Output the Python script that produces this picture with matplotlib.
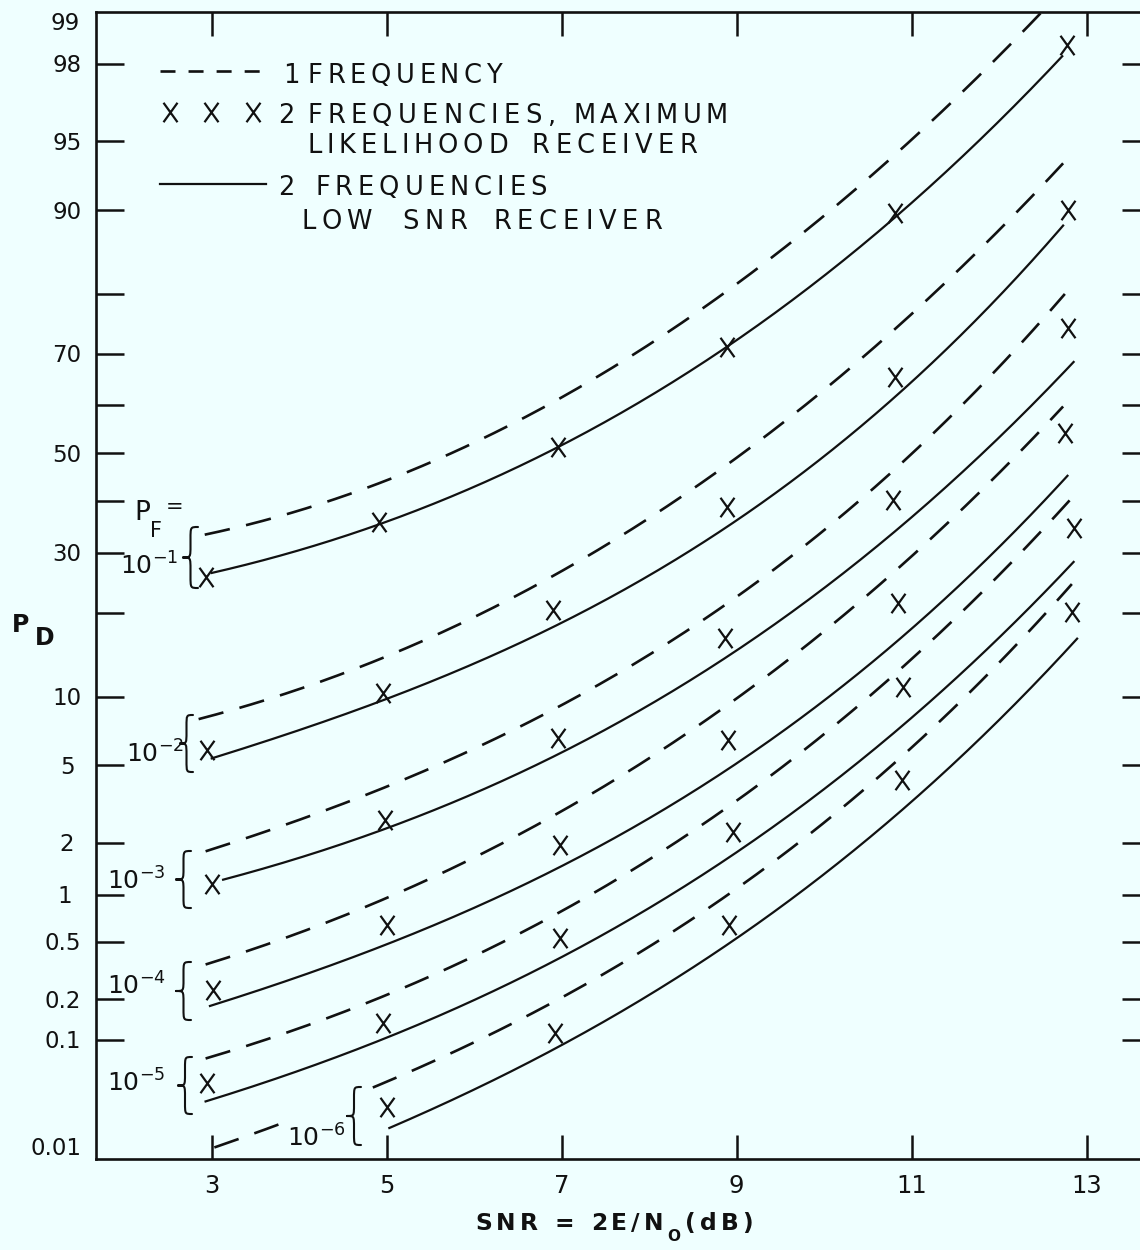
import math
import numpy as np
import matplotlib
matplotlib.use('Agg')
import matplotlib.pyplot as plt
from matplotlib.path import Path
from matplotlib.patches import PathPatch, Rectangle
from matplotlib.lines import Line2D
from matplotlib.ticker import FixedLocator, NullLocator, NullFormatter
from matplotlib.transforms import offset_copy

plt.rcParams['font.family'] = ['DejaVu Sans']
plt.rcParams['mathtext.fontset'] = 'dejavusans'
plt.rcParams['lines.scale_dashes'] = False

# ---------------- data ----------------
snr_ticks = [3, 5, 7, 9, 11, 13]
pd_ticks = [0.1, 0.2, 0.5, 1, 2, 5, 10, 20, 30, 40, 50, 60, 70, 80, 90, 95, 98]
pd_tick_labels = ['0.1', '0.2', '0.5', '1', '2', '5', '10', '', '30', '', '50', '', '70', '', '90', '95', '98']
pd_edge_values = [99, 0.01]
pd_edge_labels = ['99', '0.01']
pf_labels = [r'$10^{-1}$', r'$10^{-2}$', r'$10^{-3}$', r'$10^{-4}$', r'$10^{-5}$', r'$10^{-6}$']

# P_F = 1e-1
snr_one_1 = [2.92, 4, 5, 6, 7, 8, 9, 10, 11, 12, 12.8]
pd_one_1 = [33.4, 38.1, 44.4, 52.6, 61.5, 71.4, 81.4, 89.6, 95.1, 98.2, 99.34]
snr_low_1 = [3.0, 4, 5, 6, 7, 8, 9, 10, 11, 12, 12.72]
pd_low_1 = [26.1, 30.7, 36.5, 43.2, 51.7, 61.1, 72.0, 82.4, 91.2, 96.1, 98.1]
snr_ml_1 = [2.94, 4.91, 6.96, 8.89, 10.81, 12.78]
pd_ml_1 = [25.7, 35.9, 51.3, 71.2, 89.7, 98.43]

# P_F = 1e-2
snr_one_2 = [2.85, 4, 5, 6, 7, 8, 9, 10, 11, 12, 12.73]
pd_one_2 = [7.99, 10.8, 14.5, 19.1, 26.9, 36.3, 49.2, 63.1, 77.0, 88.2, 93.6]
snr_low_2 = [3.0, 4, 5, 6, 7, 8, 9, 10, 11, 12, 12.73]
pd_low_2 = [5.41, 7.23, 9.67, 13.5, 18.9, 25.7, 36.5, 48.6, 65.2, 79.8, 88.4]
snr_ml_2 = [2.95, 4.96, 6.9, 8.89, 10.81, 12.79]
pd_ml_2 = [5.90, 10.3, 20.4, 38.9, 65.6, 90.0]

# P_F = 1e-3
snr_one_3 = [2.93, 4, 5, 6, 7, 8, 9, 10, 11, 12, 12.75]
pd_one_3 = [1.78, 2.70, 3.98, 5.96, 9.32, 14.3, 22.1, 34.5, 50.3, 67.7, 79.8]
snr_low_3 = [3.13, 4, 5, 6, 7, 8, 9, 10, 11, 12, 12.85]
pd_low_3 = [1.21, 1.67, 2.45, 3.76, 5.59, 8.97, 15.2, 23.7, 37.4, 53.4, 68.3]
snr_ml_3 = [3.0, 4.98, 6.96, 8.87, 10.79, 12.79]
pd_ml_3 = [1.16, 2.66, 6.67, 16.5, 40.3, 74.5]

# P_F = 1e-4
snr_one_4 = [2.93, 4, 5, 6, 7, 8, 9, 10, 11, 12, 12.73]
pd_one_4 = [0.350, 0.582, 0.954, 1.69, 2.93, 5.36, 9.76, 17.6, 29.4, 46.1, 59.6]
snr_low_4 = [2.98, 4, 5, 6, 7, 8, 9, 10, 11, 12, 12.78]
pd_low_4 = [0.182, 0.289, 0.463, 0.865, 1.48, 2.70, 5.25, 9.50, 17.7, 31.1, 45.4]
snr_ml_4 = [3.01, 5.0, 6.98, 8.9, 10.84, 12.75]
pd_ml_4 = [0.234, 0.646, 1.95, 6.54, 21.5, 54.3]

# P_F = 1e-5
snr_one_5 = [2.93, 4, 5, 6, 7, 8, 9, 10, 11, 12, 12.88]
pd_one_5 = [0.069, 0.127, 0.222, 0.402, 0.782, 1.56, 3.35, 7.02, 14.2, 26.1, 41.5]
snr_low_5 = [2.93, 4, 5, 6, 7, 8, 9, 10, 11, 12, 12.85]
pd_low_5 = [0.0314, 0.0575, 0.107, 0.199, 0.379, 0.827, 1.83, 3.80, 8.15, 16.8, 28.2]
snr_ml_5 = [2.95, 4.96, 6.98, 8.96, 10.9, 12.85]
pd_ml_5 = [0.0452, 0.133, 0.531, 2.30, 10.9, 34.7]

# P_F = 1e-6
snr_one_6 = [3.03, 4, 5, 6, 7, 8, 9, 10, 11, 12, 12.83]
pd_one_6 = [0.0128, 0.0226, 0.0477, 0.099, 0.209, 0.449, 1.05, 2.63, 6.21, 13.5, 24.4]
snr_low_6 = [5.03, 6, 7, 8, 9, 10, 11, 12, 12.89]
pd_low_6 = [0.0188, 0.0395, 0.0942, 0.215, 0.523, 1.31, 3.35, 8.15, 16.3]
snr_ml_6 = [5.0, 6.92, 8.91, 10.89, 12.83]
pd_ml_6 = [0.0285, 0.112, 0.646, 4.26, 20.1]

one_freq = [(snr_one_1, pd_one_1), (snr_one_2, pd_one_2), (snr_one_3, pd_one_3),
            (snr_one_4, pd_one_4), (snr_one_5, pd_one_5), (snr_one_6, pd_one_6)]
low_snr = [(snr_low_1, pd_low_1), (snr_low_2, pd_low_2), (snr_low_3, pd_low_3),
           (snr_low_4, pd_low_4), (snr_low_5, pd_low_5), (snr_low_6, pd_low_6)]
max_lik = [(snr_ml_1, pd_ml_1), (snr_ml_2, pd_ml_2), (snr_ml_3, pd_ml_3),
           (snr_ml_4, pd_ml_4), (snr_ml_5, pd_ml_5), (snr_ml_6, pd_ml_6)]

# ---------------- normal-probability scale ----------------
SQ2 = math.sqrt(2.0)
_A = [-3.969683028665376e+01, 2.209460984245205e+02, -2.759285104469687e+02,
      1.383577518672690e+02, -3.066479806614716e+01, 2.506628277459239e+00]
_B = [-5.447609879822406e+01, 1.615858368580409e+02, -1.556989798598866e+02,
      6.680131188771972e+01, -1.328068155288572e+01]
_C = [-7.784894002430293e-03, -3.223964580411365e-01, -2.400758277161838e+00,
      -2.549732539343734e+00, 4.374664141464968e+00, 2.938163982698783e+00]
_D = [7.784695709041462e-03, 3.224671290700398e-01, 2.445134137142996e+00,
      3.754408661907416e+00]


def _phi_scalar(z):
    if z != z:
        return float('nan')
    return 0.5 * math.erfc(-z / SQ2)


def _ppf_scalar(p):
    if p != p:
        return float('nan')
    p = min(max(p, 1e-15), 1 - 1e-15)
    plow = 0.02425
    if p < plow:
        q = math.sqrt(-2 * math.log(p))
        x = (((((_C[0]*q+_C[1])*q+_C[2])*q+_C[3])*q+_C[4])*q+_C[5]) / \
            ((((_D[0]*q+_D[1])*q+_D[2])*q+_D[3])*q+1)
    elif p <= 1 - plow:
        q = p - 0.5
        r = q * q
        x = (((((_A[0]*r+_A[1])*r+_A[2])*r+_A[3])*r+_A[4])*r+_A[5])*q / \
            (((((_B[0]*r+_B[1])*r+_B[2])*r+_B[3])*r+_B[4])*r+1)
    else:
        q = math.sqrt(-2 * math.log(1 - p))
        x = -(((((_C[0]*q+_C[1])*q+_C[2])*q+_C[3])*q+_C[4])*q+_C[5]) / \
            ((((_D[0]*q+_D[1])*q+_D[2])*q+_D[3])*q+1)
    e = 0.5 * math.erfc(-x / SQ2) - p
    u = e * math.sqrt(2 * math.pi) * math.exp(x * x / 2)
    return x - u / (1 + x * u / 2)


_phi_v = np.vectorize(_phi_scalar, otypes=[float])
_ppf_v = np.vectorize(_ppf_scalar, otypes=[float])


def fwd(pct):
    return _ppf_v(np.asarray(pct, dtype=float) / 100.0)


def inv(z):
    return 100.0 * _phi_v(np.asarray(z, dtype=float))


def smooth(snr, pd, n=300):
    """Least-squares cubic through the read points in probit space (removes reading jitter)."""
    x = np.asarray(snr, float)
    z = fwd(pd)
    coef = np.polyfit(x, z, 3)
    xs = np.linspace(x[0], x[-1], n)
    return xs, inv(np.polyval(coef, xs))


# ---------------- figure ----------------
W, H = 1140, 1250
BG = '#EFFFFF'
INK = '#111111'

fig = plt.figure(figsize=(W / 100, H / 100), dpi=100, facecolor=BG)
AX_L, AX_R, AX_T, AX_B = 95.7, 1150.0, 12.0, 1159.0
ax = fig.add_axes([AX_L / W, 1 - AX_B / H, (AX_R - AX_L) / W, (AX_B - AX_T) / H])
ax.set_facecolor(BG)
ax.set_yscale('function', functions=(fwd, inv))
ax.set_xlim(1.674, 13.723)
ax.set_ylim(0.01, 99)

for sp in ax.spines.values():
    sp.set_linewidth(1.9)
    sp.set_color(INK)

ax.set_xticks(snr_ticks, labels=[str(v) for v in snr_ticks])
ax.xaxis.set_minor_locator(NullLocator())
ax.tick_params(axis='x', which='major', direction='in', length=17, width=1.8,
               top=True, bottom=True, labelsize=17.5, pad=11, colors=INK)
ax.yaxis.set_major_locator(FixedLocator(pd_ticks))
ax.yaxis.set_major_formatter(NullFormatter())
ax.yaxis.set_minor_locator(NullLocator())
ax.tick_params(axis='y', which='major', direction='in', length=20, width=1.8,
               left=True, right=True, colors=INK)

# y tick labels (drawn as text at data positions)
ytr = ax.get_yaxis_transform()


def axx(px):
    return (px - AX_L) / (AX_R - AX_L)


YFS = 16.5
base_tr = offset_copy(ytr, fig=fig, x=0, y=-6.0, units='points')
for v, lab in zip(pd_ticks, pd_tick_labels):
    if not lab:
        continue
    if len(lab) <= 2:
        cx = 65 if lab == '1' else 67
        ax.text(axx(cx), v, lab, transform=base_tr, ha='center', va='baseline',
                fontsize=YFS, color=INK, clip_on=False)
    else:
        ax.text(axx(81), v, lab, transform=base_tr, ha='right', va='baseline',
                fontsize=YFS, color=INK, clip_on=False)
edge_offsets = [-13.2, 2.6]
for v, lab, off in zip(pd_edge_values, pd_edge_labels, edge_offsets):
    tr = offset_copy(ytr, fig=fig, x=0, y=off, units='points')
    if len(lab) <= 2:
        ax.text(axx(65), v, lab, transform=tr, ha='center', va='baseline',
                fontsize=YFS, color=INK, clip_on=False)
    else:
        ax.text(axx(81), v, lab, transform=tr, ha='right', va='baseline',
                fontsize=YFS, color=INK, clip_on=False)

# X-shaped marker
xmark = Path([(-0.72, -1), (0.72, 1), (-0.72, 1), (0.72, -1)],
             [Path.MOVETO, Path.LINETO, Path.MOVETO, Path.LINETO])

DASH_LW = 1.9
SOLID_LW = 1.6
for s, p in one_freq:
    xs, ys = smooth(s, p)
    ax.plot(xs, ys, color=INK, lw=DASH_LW, ls=(0, (18.5, 12)), dash_capstyle='butt', zorder=2)
for s, p in low_snr:
    xs, ys = smooth(s, p)
    ax.plot(xs, ys, color=INK, lw=SOLID_LW, zorder=2)
for s, p in max_lik:
    ax.plot(s, p, ls='none', marker=xmark, ms=14, mew=1.6, mec=INK, mfc='none', zorder=3)

# ---------------- annotations in figure pixels ----------------
R = fig.canvas.get_renderer()


def fx(x):
    return x / W


def fy(y):
    return 1 - y / H


def char_w(ch, size, weight):
    if ch == ' ':
        return 0.5 * char_w('n', size, weight)
    t = fig.text(0, 0, ch, fontsize=size, fontweight=weight)
    w = t.get_window_extent(renderer=R).width
    t.remove()
    return w


def spaced(x0, x1, yb, tokens, weight='normal'):
    ws = [char_w(c, sz, weight) for c, sz, dy in tokens]
    gap = 0 if len(tokens) < 2 else (x1 - x0 - sum(ws)) / (len(tokens) - 1)
    x = x0
    for (c, sz, dy), w in zip(tokens, ws):
        if c != ' ':
            fig.text(fx(x), fy(yb + dy), c, fontsize=sz, fontweight=weight,
                     ha='left', va='baseline', color=INK)
        x += w + gap


def word(x0, x1, yb, s, size, weight='normal'):
    spaced(x0, x1, yb, [(c, size, 0) for c in s], weight)


LFS = 18.5
# legend samples
fig.add_artist(Line2D([fx(160), fx(262)], [fy(71), fy(71)], transform=fig.transFigure,
                      color=INK, lw=DASH_LW, ls=(0, (10.8, 9.4)), dash_capstyle='butt'))
fig.add_artist(Line2D([fx(170), fx(211), fx(253)], [fy(112)] * 3, transform=fig.transFigure,
                      ls='none', marker=xmark, ms=14, mew=1.6, mec=INK, mfc='none'))
fig.add_artist(Line2D([fx(160), fx(266)], [fy(184), fy(184)], transform=fig.transFigure,
                      color=INK, lw=SOLID_LW))
# legend text
word(283, 283, 83, '1', LFS)
word(308, 502, 83, 'FREQUENCY', LFS)
word(278, 278, 123, '2', LFS)
word(307, 555, 123, 'FREQUENCIES,', LFS)
word(573, 728, 123, 'MAXIMUM', LFS)
word(307, 508, 153, 'LIKELIHOOD', LFS)
word(532, 697, 153, 'RECEIVER', LFS)
word(278, 278, 195, '2', LFS)
word(315, 547, 195, 'FREQUENCIES', LFS)
word(302, 372, 229, 'LOW', LFS)
word(402, 467, 229, 'SNR', LFS)
word(493, 662, 229, 'RECEIVER', LFS)

# axis titles
XFS = 16.8
xl_tokens = [(c, XFS, 0) for c in 'SNR = 2E/N'] + [('O', 11, 11)] + [(c, XFS, 0) for c in '(dB)']
spaced(475, 753, 1230, xl_tokens, weight='bold')
fig.text(fx(12), fy(632), 'P', fontsize=17, fontweight='bold', ha='left', va='baseline', color=INK)
fig.text(fx(35), fy(645), 'D', fontsize=17, fontweight='bold', ha='left', va='baseline', color=INK)

# P_F = label
fig.text(fx(134), fy(520), 'P', fontsize=19, ha='left', va='baseline', color=INK)
fig.text(fx(150), fy(537), 'F', fontsize=15, ha='left', va='baseline', color=INK)
fig.text(fx(166), fy(513), '=', fontsize=15, ha='left', va='baseline', color=INK)

# mask behind the 10^-6 label
fig.add_artist(Rectangle((fx(292), fy(1134)), (360 - 292) / W, (1134 - 1082) / H,
                         transform=fig.transFigure, fc=BG, ec='none', zorder=2.5))

pf_label_pos = [(120, 575), (126, 763), (107, 890), (107, 995), (107, 1092), (287, 1147)]
for lab, (x, yb) in zip(pf_labels, pf_label_pos):
    fig.text(fx(x), fy(yb), lab, fontsize=18, ha='left', va='baseline', color=INK, zorder=3)


def brace(xt, xe, yt, yb):
    ym = (yt + yb) / 2.0
    xm = (xt + xe) / 2.0
    q = 0.2 * (yb - yt)
    pts = [(xe, yt), (xm, yt), (xm, yt), (xm, yt + q),
           (xm, ym - q),
           (xm, ym), (xm, ym), (xt, ym),
           (xm, ym), (xm, ym), (xm, ym + q),
           (xm, yb - q),
           (xm, yb), (xm, yb), (xe, yb)]
    M, L, C = Path.MOVETO, Path.LINETO, Path.CURVE4
    codes = [M, C, C, C, L, C, C, C, C, C, C, L, C, C, C]
    verts = [(fx(a), fy(b)) for a, b in pts]
    fig.add_artist(PathPatch(Path(verts, codes), transform=fig.transFigure, fill=False,
                             lw=1.5, ec=INK, capstyle='round', joinstyle='round', zorder=3))


brace_pos = [(183, 198, 527, 588), (180, 193, 715, 772), (176, 191, 851, 908),
             (176, 191, 962, 1020), (178, 192, 1057, 1114), (347, 361, 1087, 1145)]
for b in brace_pos:
    brace(*b)

fig.savefig('out.png', dpi=100, facecolor=BG)
